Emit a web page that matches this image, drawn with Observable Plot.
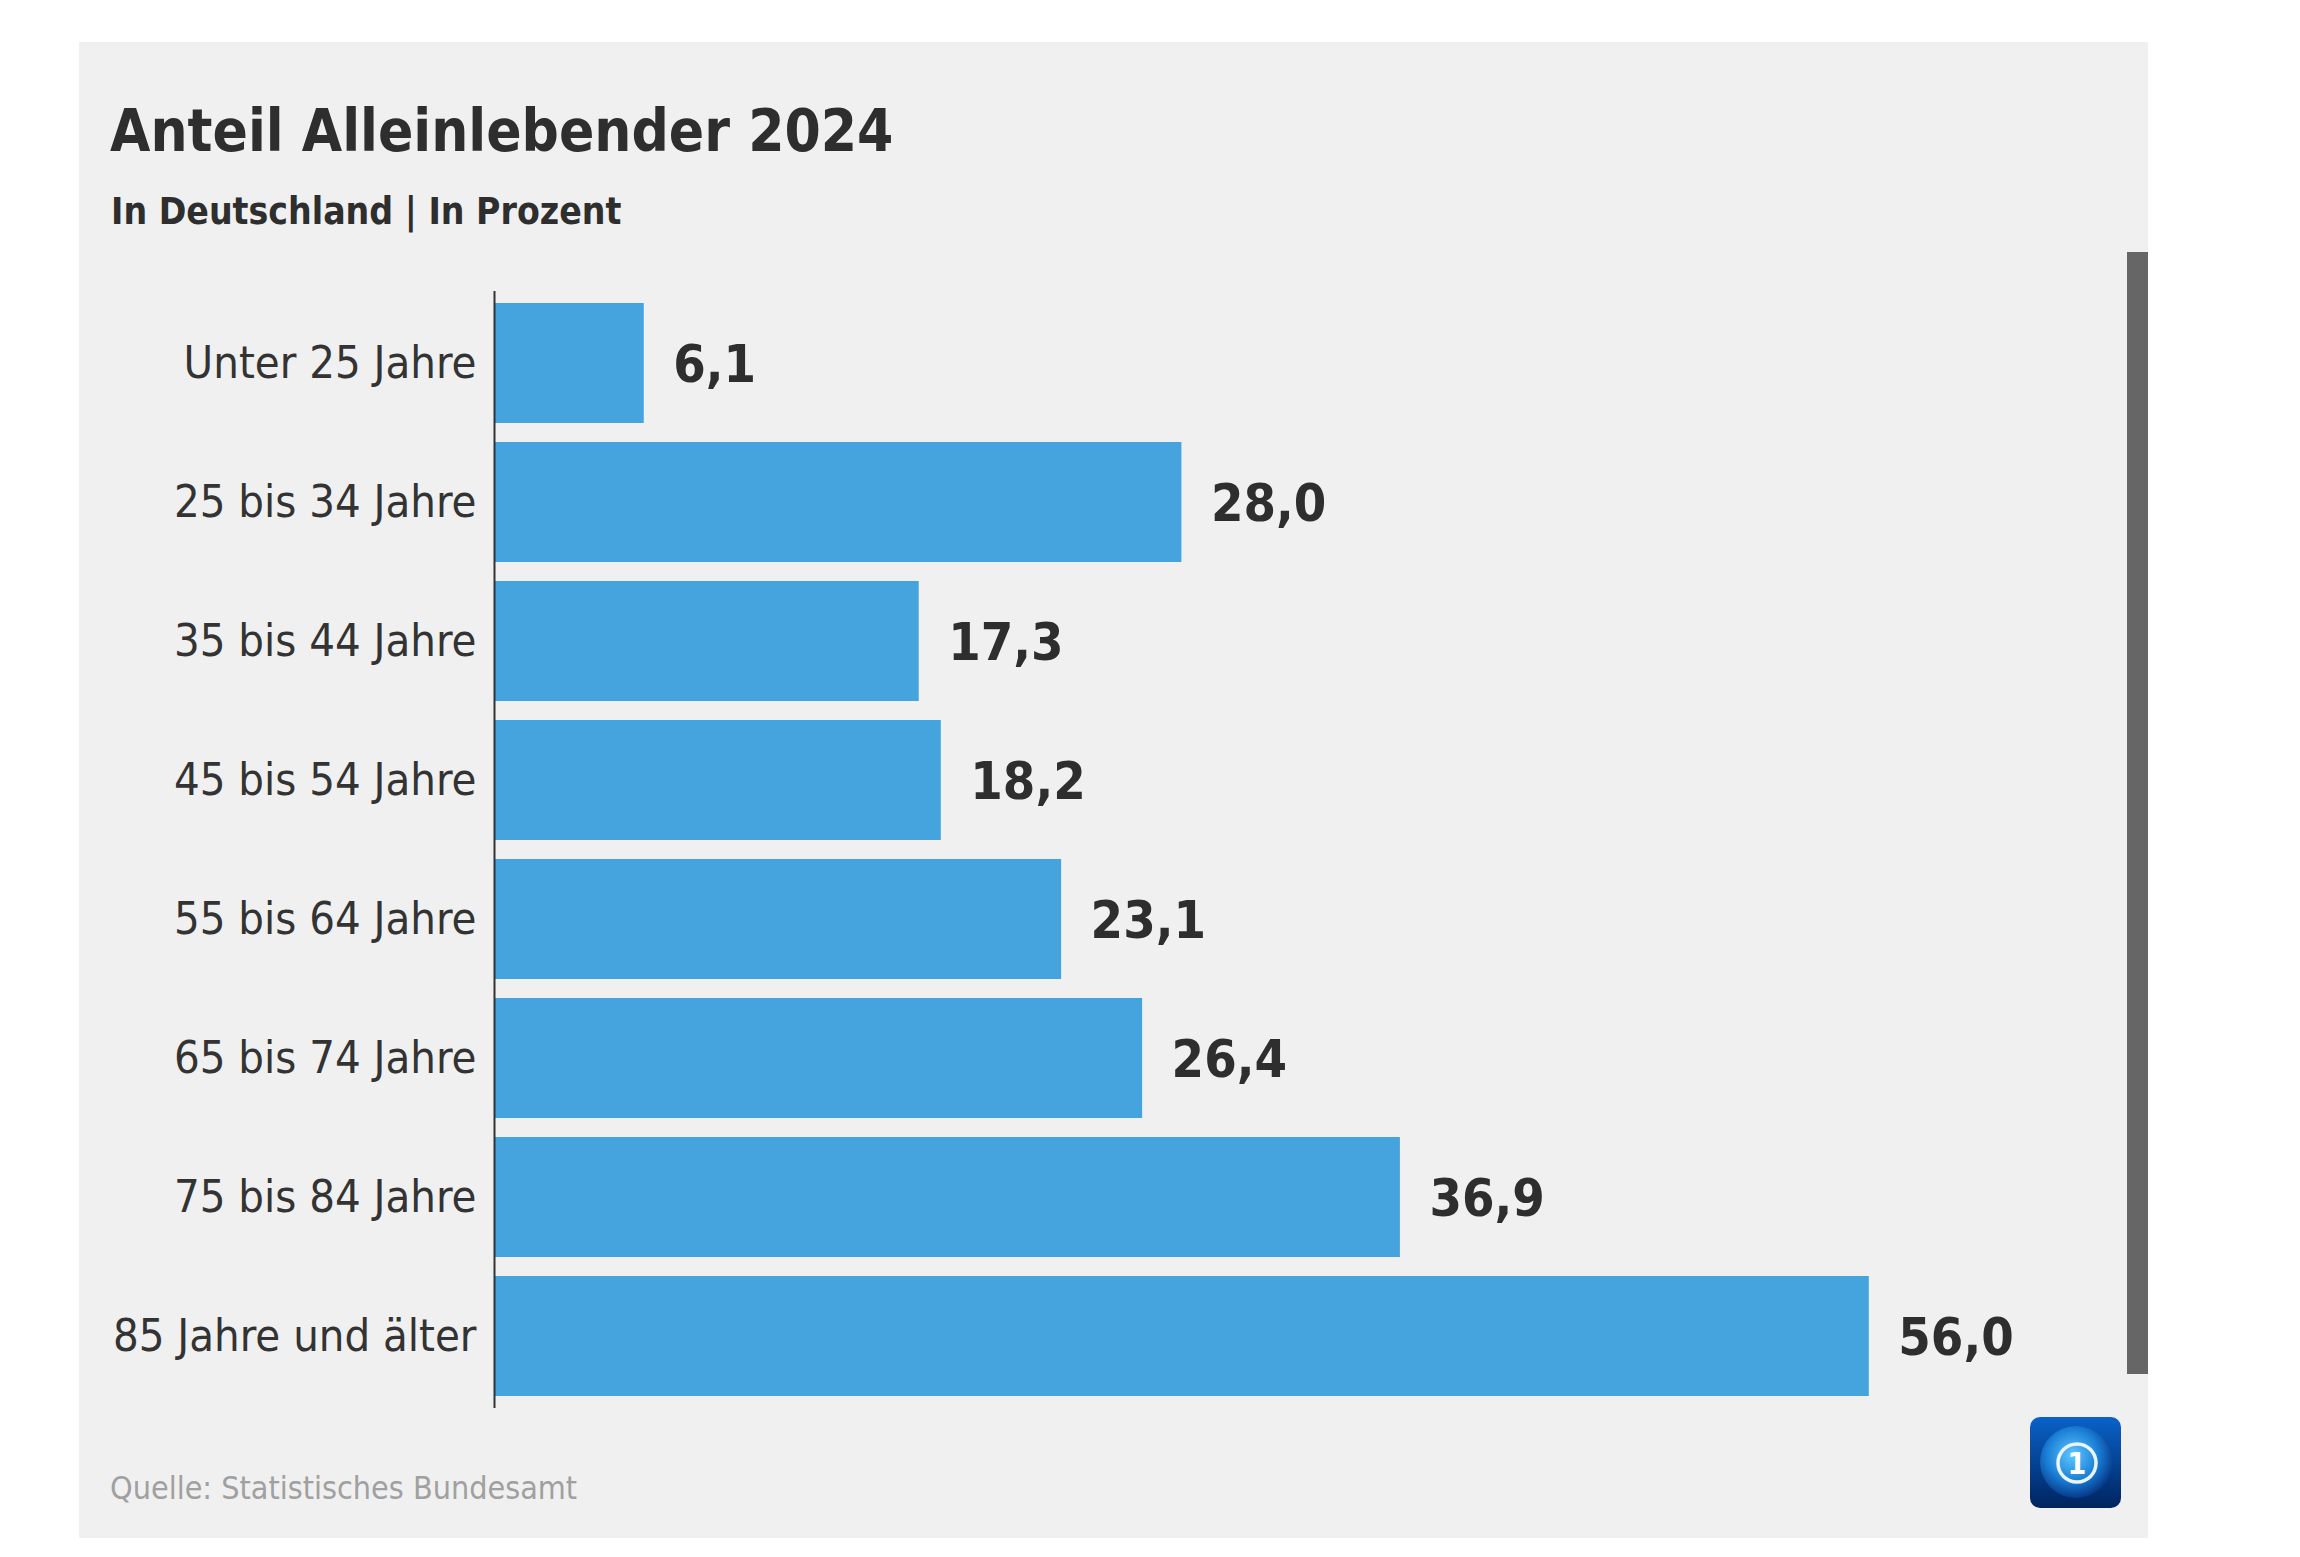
<!DOCTYPE html>
<html>
<head>
<meta charset="utf-8">
<script src="https://cdn.jsdelivr.net/npm/d3@7"></script>
<script src="https://cdn.jsdelivr.net/npm/@observablehq/plot@0.6"></script>
<style>
  html, body { margin: 0; padding: 0; background: #ffffff; }
  body { width: 2300px; height: 1557px; position: relative; overflow: hidden;
         font-family: "DejaVu Sans Condensed", "DejaVu Sans", sans-serif; font-stretch: condensed; }
  #panel { position: absolute; left: 79px; top: 42px; width: 2069px; height: 1496px; background: #f0f0f0; }
  .txt { position: absolute; white-space: nowrap; line-height: 1; }
  #title { left: 31px; top: 60px; font-size: 58px; font-weight: bold; color: #2e2e2e; }
  #subtitle { left: 32px; top: 151px; font-size: 37px; font-weight: bold; color: #2e2e2e; }
  #source { left: 31px; top: 1430px; font-size: 32px; color: #a0a0a0; }
  #chart { position: absolute; left: 0px; top: 195px; }
  #scroll { position: absolute; left: 2048px; top: 210px; width: 21px; height: 1122px; background: #666666; }
  #logo { position: absolute; left: 1951px; top: 1375px; width: 91px; height: 91px; }
</style>
</head>
<body>
<div id="panel">
  <div id="title" class="txt">Anteil Alleinlebender 2024</div>
  <div id="subtitle" class="txt">In Deutschland | In Prozent</div>
  <div id="chart"></div>
  <div id="scroll"></div>
  <svg id="logo" viewBox="0 0 91 91">
    <defs>
      <linearGradient id="lg" x1="0" y1="0" x2="0" y2="1">
        <stop offset="0" stop-color="#0a62c8"/>
        <stop offset="1" stop-color="#00245f"/>
      </linearGradient>
      <radialGradient id="rg" cx="0.45" cy="0.4" r="0.6">
        <stop offset="0" stop-color="#5fc8ff"/>
        <stop offset="0.6" stop-color="#1a7fd6"/>
        <stop offset="1" stop-color="#063a8a"/>
      </radialGradient>
    </defs>
    <rect x="0" y="0" width="91" height="91" rx="10" fill="url(#lg)"/>
    <circle cx="46" cy="45" r="36" fill="url(#rg)"/>
    <circle cx="47" cy="46" r="19" fill="none" stroke="#e8f4ff" stroke-width="3.5"/>
    <text x="47" y="57" text-anchor="middle" font-family="DejaVu Sans" font-weight="bold" font-size="30" fill="#ffffff">1</text>
  </svg>
  <div id="source" class="txt">Quelle: Statistisches Bundesamt</div>
</div>
<script>
const categories = [
  "Unter 25 Jahre",
  "25 bis 34 Jahre",
  "35 bis 44 Jahre",
  "45 bis 54 Jahre",
  "55 bis 64 Jahre",
  "65 bis 74 Jahre",
  "75 bis 84 Jahre",
  "85 Jahre und älter"
];
const values = [6.1, 28.0, 17.3, 18.2, 23.1, 26.4, 36.9, 56.0];

const data = categories.map((c, i) => ({category: c, value: values[i]}));
const de = d3.formatLocale({decimal: ",", thousands: ".", grouping: [3], currency: ["", " €"]});
const fmt = de.format(".1f");

const chart = Plot.plot({
  width: 2069,
  height: 1200,
  marginLeft: 415,
  marginRight: 181,
  marginTop: 54,
  marginBottom: 29,
  style: {
    background: "transparent",
    fontFamily: "'DejaVu Sans Condensed', 'DejaVu Sans', sans-serif",
    fontStretch: "condensed",
    color: "#333333",
    overflow: "visible"
  },
  x: {domain: [0, 60], axis: null},
  y: {domain: categories, paddingInner: 0.136, paddingOuter: 0.068, axis: null},
  marks: [
    Plot.barX(data, {x: "value", y: "category", fill: "#45a3dd"}),
    Plot.ruleX([0], {stroke: "#333333", strokeWidth: 2}),
    Plot.text(data, {
      x: "value", y: "category", text: d => fmt(d.value),
      textAnchor: "start", dx: 29, dy: 2, fontSize: 52, fontWeight: "bold", fill: "#2e2e2e"
    }),
    Plot.axisY({tickSize: 0, tickPadding: 18, fontSize: 45, label: null, fill: "#333333"})
  ]
});
document.getElementById("chart").appendChild(chart);
</script>
</body>
</html>
